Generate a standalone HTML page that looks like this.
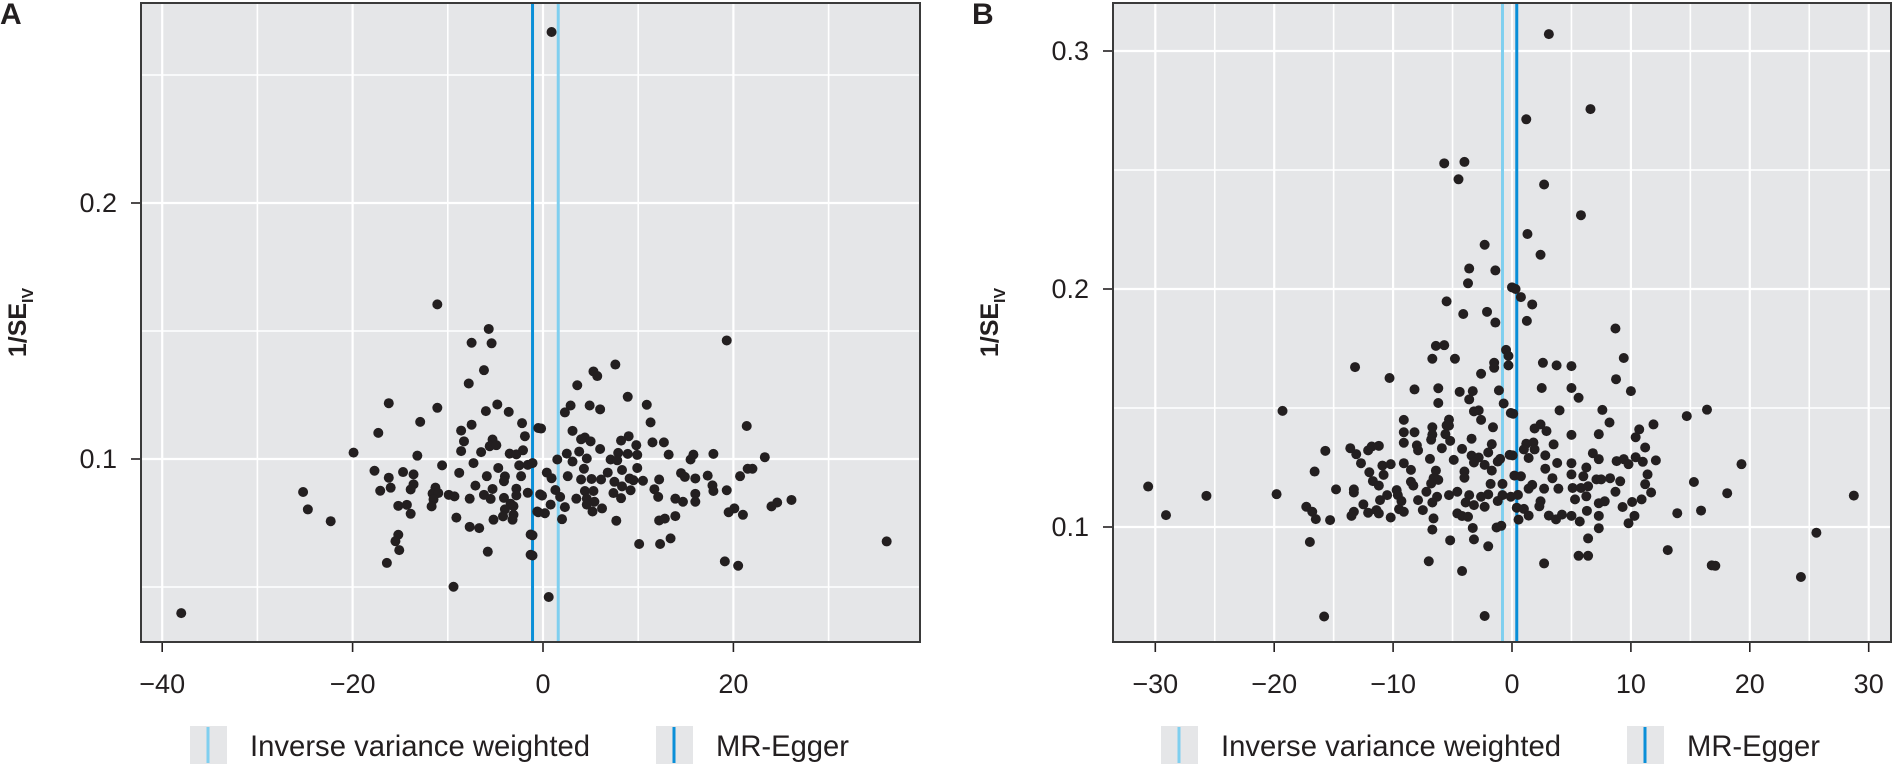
<!DOCTYPE html>
<html><head><meta charset="utf-8"><title>Funnel plots</title>
<style>
html,body{margin:0;padding:0;background:#fff;}
svg{display:block;font-family:"Liberation Sans",sans-serif;}
</style></head>
<body>
<svg id="chart" width="1893" height="764" viewBox="0 0 1893 764" xmlns="http://www.w3.org/2000/svg">
<text x="0" y="24" font-size="30" font-weight="bold" fill="#231f20">A</text>
<text x="972" y="24" font-size="30" font-weight="bold" fill="#231f20">B</text>
<g id="pa"></g>
<g id="pb"></g>
</svg>
<script>
// ---------- Panel A data ----------
const aX = [-11.1,-5.7,-7.5,-5.4,-6.2,-7.8,-16.2,-11.1,-4.8,-6.0,-3.6,-12.9,-17.3,-8.6,-7.5,-2.2,-0.5,-8.3,-1.9,-8.6,-6.5,-5.3,-5.6,-4.9,-3.5,-2.8,-2.1,-19.9,-13.2,-10.6,-7.3,-4.7,-2.5,-1.6,-1.1,-17.7,-14.7,-13.6,-16.2,-8.8,-5.9,-4.0,-4.1,-2.3,-13.6,-16.0,-17.1,-13.9,-11.3,-7.1,-5.3,-2.8,-1.6,-0.3,-25.2,-11.6,-11.0,-9.9,-9.3,-7.7,-6.2,-5.5,-4.1,-2.8,-11.5,-15.2,-14.3,-11.7,-3.4,-3.1,-4.0,-0.6,-24.7,-13.9,-9.1,-3.1,-4.2,-5.2,-3.2,-22.3,-7.7,-6.7,-15.2,-1.3,-15.5,-15.1,-5.8,-1.3,-16.4,-9.4,-38,
0.9,19.3,7.6,5.3,5.7,3.6,8.9,4.9,6.0,2.9,2.3,10.9,11.3,21.4,-0.2,3.1,9.0,8.2,4.4,4.0,5.0,11.5,12.7,9.8,6.0,2.5,3.8,7.9,8.9,9.9,13.2,15.8,17.9,1.5,4.6,7.1,3.1,7.8,15.5,23.3,4.3,8.3,9.9,22.0,21.5,6.8,0.4,14.5,17.3,20.7,0.9,2.6,4.0,5.1,6.1,7.5,9.1,9.5,10.5,12.2,14.9,16.0,8.3,17.8,9.2,11.7,19.3,1.3,4.4,5.3,7.4,-0.1,1.8,3.5,12.1,16.0,17.9,8.2,13.9,14.7,16.0,4.6,5.4,26.1,24.6,24.0,20.1,0.8,2.3,4.6,6.2,5.2,-0.5,0.2,19.5,21.0,12.2,12.8,2.0,7.7,13.9,-1.1,-1.1,10.1,12.3,13.4,36.1,19.1,20.5,0.6];
const aY = [0.1604,0.1508,0.1454,0.1452,0.1347,0.1295,0.1218,0.1200,0.1213,0.1187,0.1184,0.1145,0.1102,0.1111,0.1134,0.1140,0.1121,0.1069,0.1089,0.1031,0.1027,0.1076,0.1050,0.1054,0.1021,0.1018,0.1034,0.1025,0.1013,0.0975,0.0984,0.0965,0.0975,0.0977,0.0984,0.0954,0.0949,0.0940,0.0927,0.0946,0.0933,0.0932,0.0913,0.0933,0.0901,0.0888,0.0876,0.0881,0.0888,0.0896,0.0883,0.0884,0.0868,0.0862,0.0871,0.0865,0.0867,0.0860,0.0854,0.0845,0.0860,0.0844,0.0848,0.0858,0.0842,0.0817,0.0821,0.0815,0.0825,0.0816,0.0803,0.0795,0.0803,0.0786,0.0771,0.0782,0.0776,0.0763,0.0763,0.0757,0.0735,0.0730,0.0704,0.0705,0.0679,0.0644,0.0638,0.0626,0.0594,0.0501,0.0398,
0.2668,0.1463,0.1369,0.1342,0.1324,0.1288,0.1243,0.1209,0.1194,0.1209,0.1182,0.1212,0.1143,0.1129,0.1119,0.1110,0.1089,0.1072,0.1084,0.1077,0.1069,0.1065,0.1065,0.1054,0.1039,0.1021,0.1029,0.1024,0.1020,0.1016,0.1017,0.1017,0.1020,0.0998,0.1002,0.0998,0.0990,0.0995,0.0998,0.1007,0.0962,0.0957,0.0965,0.0962,0.0962,0.0947,0.0947,0.0945,0.0935,0.0933,0.0925,0.0933,0.0920,0.0922,0.0920,0.0911,0.0924,0.0917,0.0915,0.0920,0.0930,0.0924,0.0893,0.0897,0.0878,0.0882,0.0878,0.0879,0.0875,0.0875,0.0867,0.0857,0.0852,0.0845,0.0852,0.0864,0.0875,0.0847,0.0845,0.0833,0.0833,0.0845,0.0833,0.0840,0.0830,0.0815,0.0807,0.0822,0.0812,0.0822,0.0807,0.0795,0.0792,0.0788,0.0792,0.0782,0.0760,0.0767,0.0765,0.0759,0.0777,0.0702,0.0623,0.0668,0.0668,0.0690,0.0678,0.0600,0.0583,0.0461];
const aXTicks = [-40,-20,0,20];
const aXMinor = [-30,-10,10,30];
const aYTicks = [0.1,0.2];
const aYMinor = [0.05,0.15,0.25];
const aIVW = 1.6;
const aEgger = -1.1;

// ---------- Panel B data ----------
const bX = [-5.7,-4.0,-4.5,-2.3,-3.6,-1.4,-3.7,0.0,-5.5,-4.1,-2.1,-1.4,-6.4,-5.7,-6.7,-4.8,-0.5,-0.3,-1.5,-1.5,-0.3,-2.6,-13.2,-10.3,-8.2,-6.2,-4.4,-3.3,-3.6,-1.1,-6.2,-0.7,-0.1,-19.3,-3.2,-2.8,-2.6,-9.1,-5.3,-1.6,-9.1,-8.2,-6.7,-6.7,-5.5,-5.3,-5.6,-5.2,-6.8,-3.4,-9.1,-8.0,-7.9,-5.9,-4.2,-1.7,-2.0,-0.2,-15.7,-13.6,-13.1,-12.1,-11.8,-11.2,-6.9,-4.9,-3.4,-2.8,-3.2,-1.2,-1.0,-12.7,-10.9,-10.2,-9.1,-8.5,-6.4,-4.0,-2.3,-1.7,-16.6,-12.0,-10.8,-6.6,-4.0,0.2,-11.7,-8.5,-6.8,-6.2,-1.8,-0.8,-30.6,-11.2,-8.3,-25.7,-19.8,-14.8,-13.3,-13.3,-9.7,-9.6,-7.2,-6.3,-5.3,-4.6,-3.6,-2.6,-2.0,-0.8,-0.1,-10.5,-11.1,-9.3,-7.9,-6.7,-3.9,-3.2,-2.3,-1.2,-12.5,-17.3,-16.8,-9.5,-9.1,-7.5,-13.3,-12.1,-11.4,-11.2,-4.6,-4.2,-3.7,-29.1,-16.5,-15.3,-13.5,-10.2,-6.6,-0.9,-1.3,-6.7,-3.3,-5.2,-3.2,-2.0,-17.0,-7.0,-4.2,-15.8,-2.3,
3.1,6.6,1.2,2.7,5.8,1.3,2.4,0.3,0.75,1.7,1.25,8.7,9.4,2.6,3.75,5.0,8.75,2.5,5.0,10.0,5.6,0.1,4.0,7.6,14.7,16.4,8.2,11.9,2.4,1.9,2.9,10.7,5.0,7.3,10.4,1.2,1.8,3.5,1.0,1.9,11.2,0.05,2.8,6.8,7.3,1.4,8.8,9.4,9.8,10.4,11.0,12.1,19.3,3.8,5.0,2.8,6.25,0.75,5.0,6.0,3.4,7.1,7.5,8.25,9.1,11.4,15.3,1.7,1.4,2.7,3.9,5.1,5.8,6.4,11.2,8.7,11.7,18.1,28.75,0.5,5.3,6.25,2.4,7.3,7.8,10.1,10.9,0.4,1.0,2.3,6.3,9.3,13.9,15.9,1.4,3.1,3.7,4.2,5.0,5.7,7.3,10.3,0.55,7.3,9.8,25.6,6.4,13.1,2.7,5.6,6.4,16.8,17.1,24.3];
const bY = [0.2528,0.2534,0.2461,0.2186,0.2086,0.2078,0.2024,0.2007,0.1948,0.1895,0.1904,0.1859,0.1761,0.1764,0.1707,0.1707,0.1744,0.1719,0.1690,0.1669,0.1679,0.1644,0.1672,0.1626,0.1578,0.1583,0.1568,0.1571,0.1536,0.1574,0.1521,0.1519,0.1479,0.1488,0.1486,0.1490,0.1450,0.1450,0.1451,0.1419,0.1398,0.1398,0.1419,0.1388,0.1427,0.1426,0.1390,0.1362,0.1367,0.1371,0.1354,0.1343,0.1322,0.1331,0.1328,0.1348,0.1313,0.1303,0.1320,0.1331,0.1306,0.1322,0.1338,0.1341,0.1286,0.1282,0.1300,0.1292,0.1271,0.1275,0.1286,0.1268,0.1258,0.1264,0.1268,0.1240,0.1237,0.1233,0.1261,0.1237,0.1233,0.1230,0.1219,0.1205,0.1207,0.1216,0.1193,0.1190,0.1183,0.1198,0.1181,0.1181,0.1170,0.1174,0.1174,0.1131,0.1138,0.1158,0.1158,0.1145,0.1155,0.1134,0.1148,0.1127,0.1134,0.1148,0.1134,0.1127,0.1137,0.1134,0.1127,0.1134,0.1113,0.1109,0.1113,0.1103,0.1103,0.1092,0.1085,0.1109,0.1095,0.1085,0.1064,0.1075,0.1064,0.1071,0.1064,0.1060,0.1071,0.1057,0.1057,0.1046,0.1043,0.1050,0.1033,0.1029,0.1047,0.1040,0.1036,0.1005,0.0998,0.0989,0.0996,0.0944,0.0948,0.0919,0.0937,0.0856,0.0815,0.0624,0.0626,
0.3071,0.2756,0.2713,0.2439,0.2310,0.2231,0.2144,0.2000,0.1966,0.1935,0.1866,0.1834,0.1710,0.1690,0.1679,0.1676,0.1621,0.1584,0.1584,0.1571,0.1543,0.1476,0.1490,0.1492,0.1466,0.1493,0.1439,0.1431,0.1431,0.1414,0.1403,0.1410,0.1387,0.1390,0.1377,0.1350,0.1355,0.1347,0.1326,0.1326,0.1334,0.1301,0.1301,0.1310,0.1285,0.1290,0.1277,0.1285,0.1264,0.1293,0.1274,0.1280,0.1264,0.1269,0.1268,0.1245,0.1250,0.1213,0.1221,0.1213,0.1205,0.1200,0.1200,0.1205,0.1192,0.1221,0.1189,0.1177,0.1161,0.1161,0.1161,0.1164,0.1164,0.1171,0.1180,0.1148,0.1145,0.1142,0.1132,0.1135,0.1116,0.1129,0.1108,0.1100,0.1108,0.1105,0.1116,0.1081,0.1076,0.1087,0.1068,0.1084,0.1058,0.1069,0.1048,0.1048,0.1032,0.1052,0.1047,0.1023,0.1047,0.1047,0.1031,0.0995,0.1016,0.0976,0.0952,0.0903,0.0847,0.0879,0.0879,0.0839,0.0837,0.0790];
const bXTicks = [-30,-20,-10,0,10,20,30];
const bXMinor = [-25,-15,-5,5,15,25];
const bYTicks = [0.1,0.2,0.3];
const bYMinor = [0.15,0.25];
const bIVW = -0.8;
const bEgger = 0.4;

const NS = "http://www.w3.org/2000/svg";
function mk(tag, attrs, parent){
  const e = document.createElementNS(NS, tag);
  for (const k in attrs) e.setAttribute(k, attrs[k]);
  parent.appendChild(e);
  return e;
}
const BG = "#e5e6e8", DOT = "#231f20", EGG = "#0a8fd8", IVWC = "#7fcfef";

function panel(g, cfg){
  const {left,right,top,bottom,x0,xs,y0,yv,ys,xs2} = cfg;
  const X = u => x0 + u*xs;
  const Y = v => y0 - (v-yv)*ys;
  const bg = mk("rect",{x:left,y:top,width:right-left,height:bottom-top,fill:BG},g);
  
  
  cfg.yMinor.forEach(v=>{ const l=mk("line",{x1:left,x2:right,y1:Y(v),y2:Y(v),stroke:"#fff","stroke-width":1.6},g);
    
     });
  cfg.xMinor.forEach(u=>{ const l=mk("line",{x1:X(u),x2:X(u),y1:top,y2:bottom,stroke:"#fff","stroke-width":1.6},g);
    
     });
  cfg.yTicks.forEach(v=>{ const l=mk("line",{x1:left,x2:right,y1:Y(v),y2:Y(v),stroke:"#fff","stroke-width":2.2},g);
    
    
    const t=mk("line",{x1:left-10,x2:left,y1:Y(v),y2:Y(v),stroke:"#231f20","stroke-width":1.6},g);
    
    
    const tx=mk("text",{x:left-24,y:Y(v)+9,"text-anchor":"end","font-size":27,fill:"#231f20"},g);
    tx.textContent = String(v);
    
     });
  cfg.xTicks.forEach(u=>{ const l=mk("line",{x1:X(u),x2:X(u),y1:top,y2:bottom,stroke:"#fff","stroke-width":2.2},g);
    
    
    const t=mk("line",{x1:X(u),x2:X(u),y1:bottom,y2:bottom+10,stroke:"#231f20","stroke-width":1.6},g);
    
    
    const tx=mk("text",{x:X(u),y:693,"text-anchor":"middle","font-size":27,fill:"#231f20"},g);
    tx.textContent = u<0 ? "\u2212"+Math.abs(u) : String(u);
    
     });
  const ivw = mk("line",{x1:X(cfg.ivw),x2:X(cfg.ivw),y1:top,y2:bottom,stroke:IVWC,"stroke-width":3},g);
  
  
  const egg = mk("line",{x1:X(cfg.egger),x2:X(cfg.egger),y1:top,y2:bottom,stroke:EGG,"stroke-width":3},g);
  
  
  cfg.xs_.forEach((u,i)=>{ const c=mk("circle",{cx:X(u),cy:Y(cfg.ys_[i]),r:5,fill:DOT},g);
    
     });
  const br = mk("rect",{x:left,y:top,width:right-left,height:bottom-top,fill:"none",stroke:"#3a3a3a","stroke-width":2},g);
  
  
  // y title
  const yt = mk("text",{transform:`translate(${cfg.titleX},${(top+bottom)/2}) rotate(-90)`,"text-anchor":"middle","font-size":25,"font-weight":"bold",fill:"#231f20"},g);
  yt.innerHTML = '1/SE<tspan font-size="16" dy="7">IV</tspan>';
  
  
  // legend
  const L = cfg.legX;
  const k1 = mk("rect",{x:L,y:726,width:37,height:38,fill:BG},g);
  
  
  mk("line",{x1:L+18,x2:L+18,y1:727,y2:763,stroke:IVWC,"stroke-width":3},g);
  const t1 = mk("text",{x:L+60,y:756,"font-size":30,fill:"#231f20",textLength:340,lengthAdjust:"spacingAndGlyphs"},g);
  t1.textContent = "Inverse variance weighted";
  
  
  const k2 = mk("rect",{x:L+466,y:726,width:37,height:38,fill:BG},g);
  
  
  mk("line",{x1:L+484,x2:L+484,y1:727,y2:763,stroke:EGG,"stroke-width":3},g);
  const t2 = mk("text",{x:L+526,y:756,"font-size":30,fill:"#231f20",textLength:133,lengthAdjust:"spacingAndGlyphs"},g);
  t2.textContent = "MR-Egger";
  
  
}

panel(document.getElementById("pa"),{left:141,right:920,top:3,bottom:642,x0:543,xs:9.52,y0:203,yv:0.2,ys:2560,
  xTicks:aXTicks,xMinor:aXMinor,yTicks:aYTicks,yMinor:aYMinor,ivw:aIVW,egger:aEgger,xs_:aX,ys_:aY,titleX:26,legX:190});
panel(document.getElementById("pb"),{left:1113,right:1891,top:3,bottom:642,x0:1512,xs:11.89,y0:51,yv:0.3,ys:2380,
  xTicks:bXTicks,xMinor:bXMinor,yTicks:bYTicks,yMinor:bYMinor,ivw:bIVW,egger:bEgger,xs_:bX,ys_:bY,titleX:998,legX:1161});
</script>
</body></html>
